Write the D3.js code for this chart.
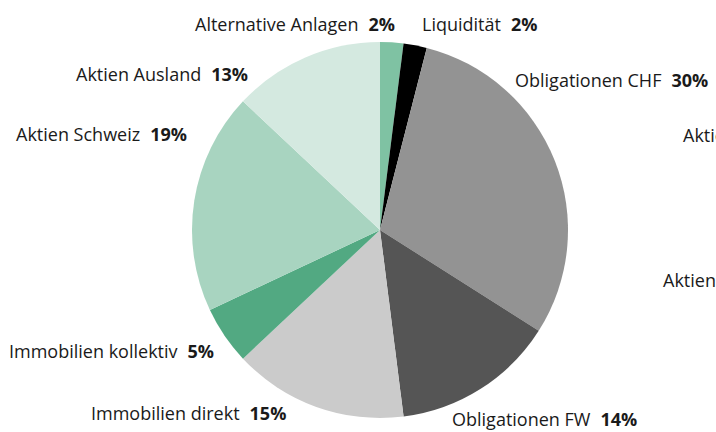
<!DOCTYPE html>
<html lang="de">
<head>
<meta charset="UTF-8">
<title>Anlagestruktur</title>
<script src="https://cdn.jsdelivr.net/npm/d3@7"></script>
<style>
  body { margin: 0; background: #fff; }
  svg { display: block; }
  text { font-family: "Open Sans", "Noto Sans", sans-serif; font-size: 18px; fill: #1a1a1a; }
  .pct { font-weight: bold; }
</style>
</head>
<body>
<svg width="716" height="432"></svg>
<script>
  // Daten
  const categories = ["Alternative Anlagen", "Liquidität", "Obligationen CHF", "Obligationen FW",
                      "Immobilien direkt", "Immobilien kollektiv", "Aktien Schweiz", "Aktien Ausland"];
  const values = [2, 2, 30, 14, 15, 5, 19, 13];
  const colors = ["#7fc2a3", "#000000", "#939393", "#555555", "#cbcbcb", "#52a982", "#a8d4c0", "#d4e9e0"];

  // Beschriftungen: linker Rand und Grundlinie
  const labelPos = [
    [195, 31], [422, 31], [515, 87], [452, 426],
    [91, 420], [9, 358], [16, 141], [76, 81]
  ];

  const svg = d3.select("svg");
  const cx = 380, cy = 230, r = 188;

  const pie = d3.pie().value(d => d).sort(null);
  const arc = d3.arc().innerRadius(0).outerRadius(r);

  const g = svg.append("g").attr("transform", `translate(${cx},${cy})`);
  g.selectAll("path")
    .data(pie(values))
    .join("path")
    .attr("d", arc)
    .attr("fill", (d, i) => colors[i]);

  const labels = svg.selectAll("text.lbl")
    .data(categories)
    .join("text")
    .attr("class", "lbl")
    .attr("x", (d, i) => labelPos[i][0])
    .attr("y", (d, i) => labelPos[i][1]);
  labels.append("tspan").text(d => d);
  labels.append("tspan").attr("class", "pct").attr("dx", 10).text((d, i) => values[i] + "%");

  // abgeschnittene Beschriftungen der Nachbargrafik
  svg.append("text").attr("x", 683).attr("y", 142).text("Aktien");
  svg.append("text").attr("x", 663).attr("y", 287).text("Aktien");
</script>
</body>
</html>
